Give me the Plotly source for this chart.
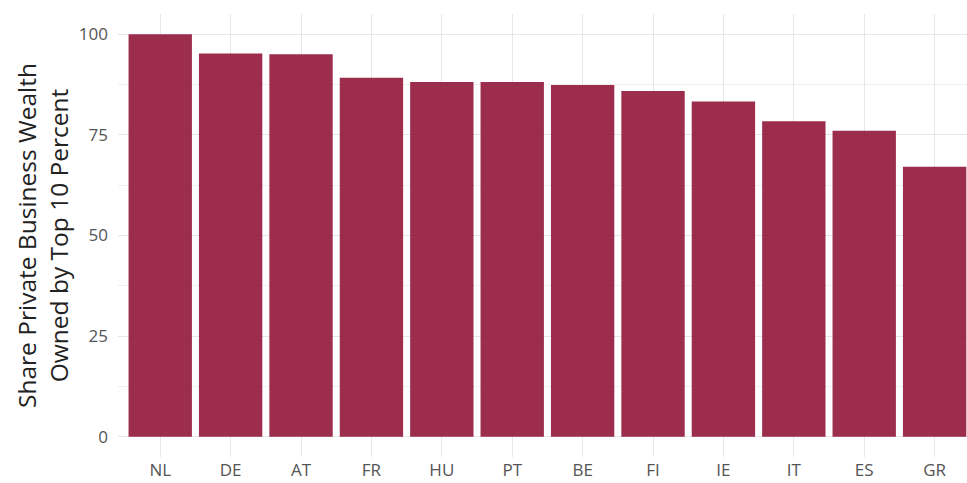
import plotly.graph_objects as go

countries = ["NL", "DE", "AT", "FR", "HU", "PT", "BE", "FI", "IE", "IT", "ES", "GR"]
share_top10 = [100.0, 95.2, 95.0, 89.2, 88.1, 88.1, 87.4, 85.9, 83.3, 78.4, 76.0, 67.1]
y_ticks = [0, 25, 50, 75, 100]

fig = go.Figure()
fig.add_trace(go.Bar(
    x=countries, y=share_top10,
    marker=dict(color="rgba(145,22,57,0.9)", line=dict(width=0)),
    width=0.9,
))

font_family = "Open Sans, Noto Sans, sans-serif"
fig.update_layout(
    width=967, height=483,
    margin=dict(l=118, r=0, t=14, b=26, autoexpand=False),
    paper_bgcolor="white", plot_bgcolor="white",
    showlegend=False,
    font=dict(family=font_family, color="#4d4d4d", size=17),
    xaxis=dict(
        type="category",
        range=[-0.6, 11.46],
        automargin=False,
        showgrid=True, gridcolor="#e6e6e6", gridwidth=1.2,
        zeroline=False, showline=False, ticks="",
        tickfont=dict(size=17, color="#555555"),
        ticklabelstandoff=1,
        layer="below traces",
    ),
    yaxis=dict(
        range=[-5, 105],
        automargin=False,
        tickvals=y_ticks,
        showgrid=True, gridcolor="#e6e6e6", gridwidth=1.2,
        minor=dict(tickvals=[12.5, 37.5, 62.5, 87.5], showgrid=True, gridcolor="#f0f0f0", gridwidth=0.8),
        zeroline=False, showline=False, ticks="",
        tickfont=dict(size=17, color="#555555"),
        ticklabelstandoff=9,
        title=dict(text="Share Private Business Wealth<br>Owned by Top 10 Percent",
                   font=dict(size=24.5, color="#222222"), standoff=3),
        layer="below traces",
    ),
    bargap=0.1,
)

fig.write_html("out.html", config={"displayModeBar": False},
               post_script="document.body.style.margin='0px';document.body.style.overflow='hidden';")
